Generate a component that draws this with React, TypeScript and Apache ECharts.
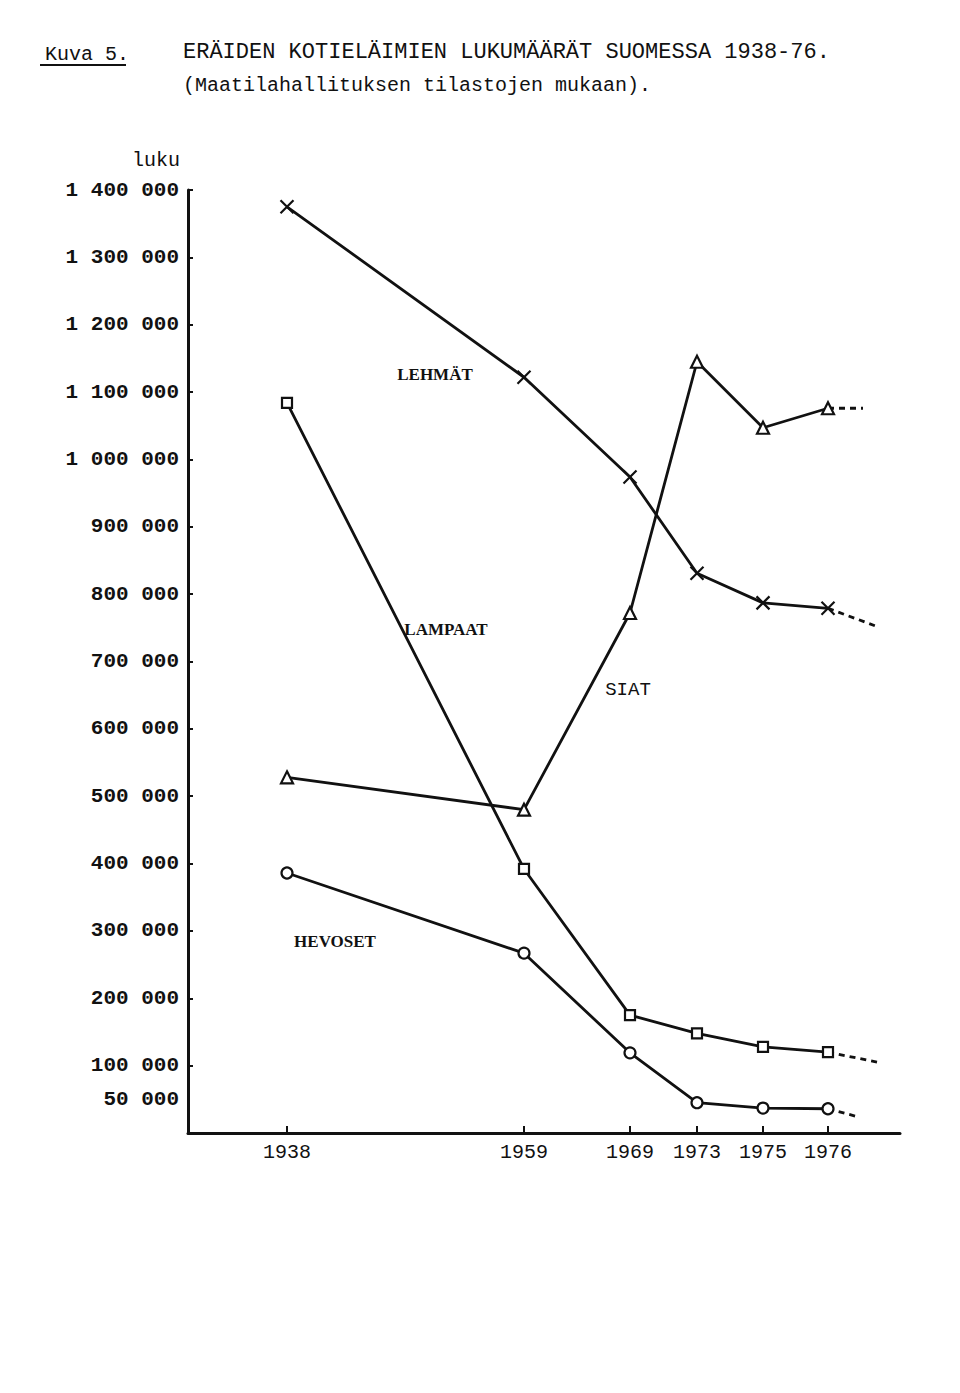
import React, { useEffect, useRef } from "react";
import * as echarts from "echarts";

// Years on the horizontal axis (the original axis is not linear in time)
const years = [1938, 1959, 1969, 1973, 1975, 1976];
// Axis slot of each year along the original, irregularly spaced time axis
const yearSlots = [99, 336, 442, 509, 575, 640];
const xAxisMax = 712;

// Number of animals (luku)
const lehmat = [1375000, 1122000, 974000, 831000, 787000, 779000]; // cows
const lampaat = [1084000, 392000, 175000, 148000, 128000, 120000]; // sheep
const siat = [528000, 480000, 772000, 1145000, 1047000, 1076000]; // pigs
const hevoset = [386000, 267000, 119000, 45000, 37000, 36000]; // horses

// Dotted continuation after 1976: [slot, value]
const lehmatTail = [687, 753000];
const lampaatTail = [690, 105000];
const siatTail = [675, 1076000];
const hevosetTail = [670, 24000];

const yTickValues = [100000, 200000, 300000, 400000, 500000, 600000, 700000, 800000, 900000, 1000000, 1100000, 1200000, 1300000, 1400000];
const yLabelValues = [50000, ...yTickValues];

const INK = "#111";
const MONO = "Liberation Mono";
const SERIF = "Liberation Serif";

const fmt = (v: number) => String(v).replace(/\B(?=(\d{3})+(?!\d))/g, " ");

const CROSS = "path://M0,0L10,10M10,0L0,10";

function mainSeries(name: string, values: number[], symbol: string, size: number) {
  return {
    name,
    type: "line",
    data: values.map((v, i) => [yearSlots[i], v]),
    symbol,
    symbolSize: size,
    showSymbol: true,
    lineStyle: { color: INK, width: 2.8 },
    itemStyle: { color: "#fff", borderColor: INK, borderWidth: 2.2 },
    z: 3,
  };
}

function tailSeries(name: string, values: number[], tail: number[]) {
  return {
    name: name + "-jatko",
    type: "line",
    data: [[yearSlots[yearSlots.length - 1], values[values.length - 1]], tail],
    symbol: "none",
    lineStyle: { color: INK, width: 2.8, type: [6, 5] },
    z: 2,
  };
}

export default function App() {
  const ref = useRef<HTMLDivElement>(null);
  useEffect(() => {
    document.body.style.margin = "0";
    const chart = echarts.init(ref.current!, null, { renderer: "svg" });
    const option: any = {
      animation: false,
      backgroundColor: "#fff",
      textStyle: { fontFamily: MONO, color: INK },
      title: [
        {
          text: "Kuva 5.",
          left: 40,
          top: 39,
          textStyle: { fontFamily: MONO, fontSize: 20, fontWeight: "normal", color: INK },
        },
        {
          text: "ERÄIDEN KOTIELÄIMIEN LUKUMÄÄRÄT SUOMESSA 1938-76.",
          subtext: "(Maatilahallituksen tilastojen mukaan).",
          left: 178,
          top: 36,
          itemGap: 12,
          textStyle: { fontFamily: MONO, fontSize: 22, fontWeight: "normal", color: INK },
          subtextStyle: { fontFamily: MONO, fontSize: 20, color: INK },
        },
      ],
      grid: { left: 188, top: 190, right: 960 - 188 - xAxisMax, bottom: 1393 - 1133 },
      xAxis: {
        type: "value",
        min: 0,
        max: xAxisMax,
        axisLine: { show: true, lineStyle: { color: INK, width: 3 } },
        axisTick: { show: true, inside: true, length: 7, lineStyle: { color: INK, width: 2 }, customValues: yearSlots },
        axisLabel: {
          show: true,
          customValues: yearSlots,
          formatter: (v: number) => {
            const i = yearSlots.indexOf(v);
            return i >= 0 ? String(years[i]) : "";
          },
          margin: 9,
          fontFamily: MONO,
          fontSize: 20,
          color: INK,
        },
        splitLine: { show: false },
      },
      yAxis: {
        type: "value",
        min: 0,
        max: 1400000,
        interval: 100000,
        name: "luku",
        nameLocation: "end",
        nameGap: 20,
        nameTextStyle: { fontFamily: MONO, fontSize: 20, color: INK, align: "right", padding: [0, 8, 0, 0] },
        axisLine: { show: true, lineStyle: { color: INK, width: 3 } },
        axisTick: { show: true, inside: true, length: 5, lineStyle: { color: INK, width: 2 }, customValues: yTickValues },
        axisLabel: {
          customValues: yLabelValues,
          formatter: (v: number) => fmt(v),
          margin: 9,
          fontFamily: MONO,
          fontSize: 21,
          fontWeight: "bold",
          color: INK,
        },
        splitLine: { show: false },
      },
      series: [
        mainSeries("LEHMÄT", lehmat, CROSS, 13),
        tailSeries("LEHMÄT", lehmat, lehmatTail),
        mainSeries("LAMPAAT", lampaat, "rect", 10),
        tailSeries("LAMPAAT", lampaat, lampaatTail),
        mainSeries("SIAT", siat, "triangle", 12),
        tailSeries("SIAT", siat, siatTail),
        mainSeries("HEVOSET", hevoset, "circle", 11),
        tailSeries("HEVOSET", hevoset, hevosetTail),
      ],
      graphic: [
        { type: "line", shape: { x1: 40, y1: 65, x2: 126, y2: 65 }, style: { stroke: INK, lineWidth: 2 } },
        { type: "text", x: 435, y: 374, style: { text: "LEHMÄT", font: `bold 17px "${SERIF}"`, fill: INK, align: "center", verticalAlign: "middle" } },
        { type: "text", x: 446, y: 629, style: { text: "LAMPAAT", font: `bold 17px "${SERIF}"`, fill: INK, align: "center", verticalAlign: "middle" } },
        { type: "text", x: 628, y: 690, style: { text: "SIAT", font: `19px "${MONO}"`, fill: INK, align: "center", verticalAlign: "middle" } },
        { type: "text", x: 335, y: 941, style: { text: "HEVOSET", font: `bold 17px "${SERIF}"`, fill: INK, align: "center", verticalAlign: "middle" } },
      ],
    };
    chart.setOption(option);
    return () => chart.dispose();
  }, []);
  return <div ref={ref} style={{ width: 960, height: 1393 }} />;
}
